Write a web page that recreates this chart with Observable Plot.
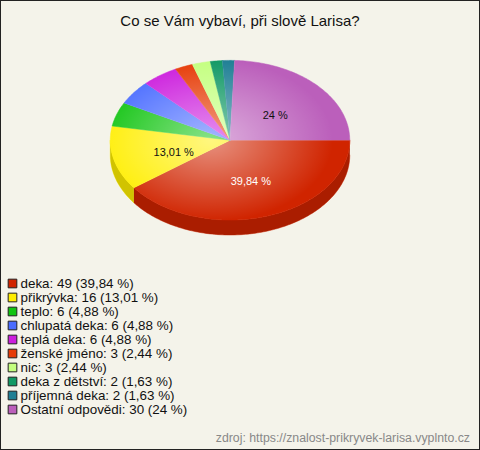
<!DOCTYPE html>
<html><head><meta charset="utf-8">
<script src="https://cdn.jsdelivr.net/npm/d3@7"></script>
<script src="https://cdn.jsdelivr.net/npm/@observablehq/plot@0.6"></script>
<style>
body{margin:0;background:#fff;}
#wrap{position:relative;width:478px;height:448px;border:1px solid #222;background:#f4f3ea;font-family:"Liberation Sans",Arial,sans-serif;overflow:hidden}
#title{position:absolute;top:11px;left:0;width:478px;text-align:center;font-size:15px;color:#111;line-height:17px}
#pie{position:absolute;left:-1px;top:-1px}
#legend{position:absolute;left:-1px;top:262px}
#src{position:absolute;right:9px;top:430px;font-size:12.3px;color:#888;line-height:14px}
svg{background:transparent !important}
</style></head>
<body>
<div id="wrap">
  <div id="pie"></div>
  <div id="title">Co se Vám vybaví, při slově Larisa?</div>
  <div id="legend"></div>
  <div id="src">zdroj: https://znalost-prikryvek-larisa.vyplnto.cz</div>
</div>
<script>
const categories = ["deka","přikrývka","teplo","chlupatá deka","teplá deka","ženské jméno","nic","deka z dětství","příjemná deka","Ostatní odpovědi"];
const counts = [49,16,6,6,6,3,3,2,2,30];
const percentLabels = ["39,84 %","13,01 %","4,88 %","4,88 %","4,88 %","2,44 %","2,44 %","1,63 %","1,63 %","24 %"];
const colors = ["#d02400","#ffee00","#11c411","#4a6cff","#cc1fdd","#e63c08","#c4ff80","#119965","#1f7f95","#bb5fbb"];

const total = d3.sum(counts);
const DEPTH = 0.1875;
const slices = [];
let cum = 0;
counts.forEach((v, i) => {
  const a0 = cum / total * 360; cum += v;
  const a1 = cum / total * 360;
  slices.push({cat: categories[i], i, a0, a1, v});
});
const rad = a => a * Math.PI / 180;
function arcPts(s, e) {
  const n = Math.max(2, Math.ceil((e - s) / 1));
  return d3.range(n + 1).map(k => s + (e - s) * k / n);
}
// top faces
const topRows = [];
slices.forEach(s => {
  topRows.push({cat: s.cat, x: 0, y: 0});
  arcPts(s.a0, s.a1).forEach(a => topRows.push({cat: s.cat, x: Math.cos(rad(a)), y: Math.sin(rad(a))}));
});
// side faces (front half)
const sideRows = [];
slices.forEach(s => {
  const st = Math.max(s.a0, 0), en = Math.min(s.a1, 180);
  if (en <= st) return;
  const pts = arcPts(st, en);
  pts.forEach(a => sideRows.push({cat: s.cat, x: Math.cos(rad(a)), y: Math.sin(rad(a))}));
  pts.slice().reverse().forEach(a => sideRows.push({cat: s.cat, x: Math.cos(rad(a)), y: Math.sin(rad(a)) + DEPTH}));
});
const ellipse = arcPts(0, 360).map(a => ({x: Math.cos(rad(a)), y: Math.sin(rad(a))}));
const labels = slices.filter(s => s.v / total >= 0.1).map(s => {
  const m = rad((s.a0 + s.a1) / 2);
  return {cat: s.cat, i: s.i, x: 0.5 * Math.cos(m), y: 0.5 * Math.sin(m), text: percentLabels[s.i]};
});

const color = {domain: categories, range: colors};

const pie = Plot.plot({
  width: 480, height: 262, margin: 0,
  style: {background: "transparent", overflow: "visible"},
  x: {domain: [-1, 1], range: [110, 350], axis: null},
  y: {domain: [-1, 1], range: [60, 220], axis: null},
  color,
  marks: [
    Plot.line(sideRows, {x: "x", y: "y", z: "cat", fill: "cat", stroke: "cat", strokeWidth: 0.5, curve: "linear"}),
    Plot.line(sideRows, {x: "x", y: "y", z: "cat", fill: "black", fillOpacity: 0.18, stroke: "none", curve: "linear"}),
    Plot.line(topRows, {x: "x", y: "y", z: "cat", fill: "cat", stroke: "cat", strokeWidth: 0.5, curve: "linear"}),
    Plot.line(ellipse, {x: "x", y: "y", fill: "url(#shine)", stroke: "none", curve: "linear"}),
    Plot.text(labels, {x: "x", y: "y", dy: 3, dx: 2, text: "text", fontSize: 11, fill: d => d.i === 0 ? "white" : "#111", fontFamily: "Liberation Sans, Arial, sans-serif"})
  ]
});
const defs = d3.select(pie).insert("defs", ":first-child");
const g = defs.append("radialGradient").attr("id", "shine").attr("cx", "0.42").attr("cy", "0.5").attr("r", "0.6");
g.append("stop").attr("offset", "0").attr("stop-color", "#fff").attr("stop-opacity", 0.5);
g.append("stop").attr("offset", "0.85").attr("stop-color", "#fff").attr("stop-opacity", 0);
document.getElementById("pie").appendChild(pie);

const legendLabels = categories.map((c, i) => `${c}: ${counts[i]} (${percentLabels[i]})`);
const leg = Plot.plot({
  width: 260, height: 165, margin: 0,
  style: {background: "transparent", overflow: "visible"},
  x: {axis: null},
  y: {type: "point", domain: categories, range: [10, 156], axis: null},
  color,
  marks: [
    Plot.dot(categories, {y: d => d, frameAnchor: "left", dx: 12, symbol: "square", r: 4.9, fill: d => d, stroke: "#222", strokeWidth: 1}),
    Plot.text(categories, {y: d => d, frameAnchor: "left", dx: 20, textAnchor: "start", text: (d, i) => legendLabels[i], fontSize: 13.4, fill: "#111", fontFamily: "Liberation Sans, Arial, sans-serif"})
  ]
});
document.getElementById("legend").appendChild(leg);
</script>
</body></html>
